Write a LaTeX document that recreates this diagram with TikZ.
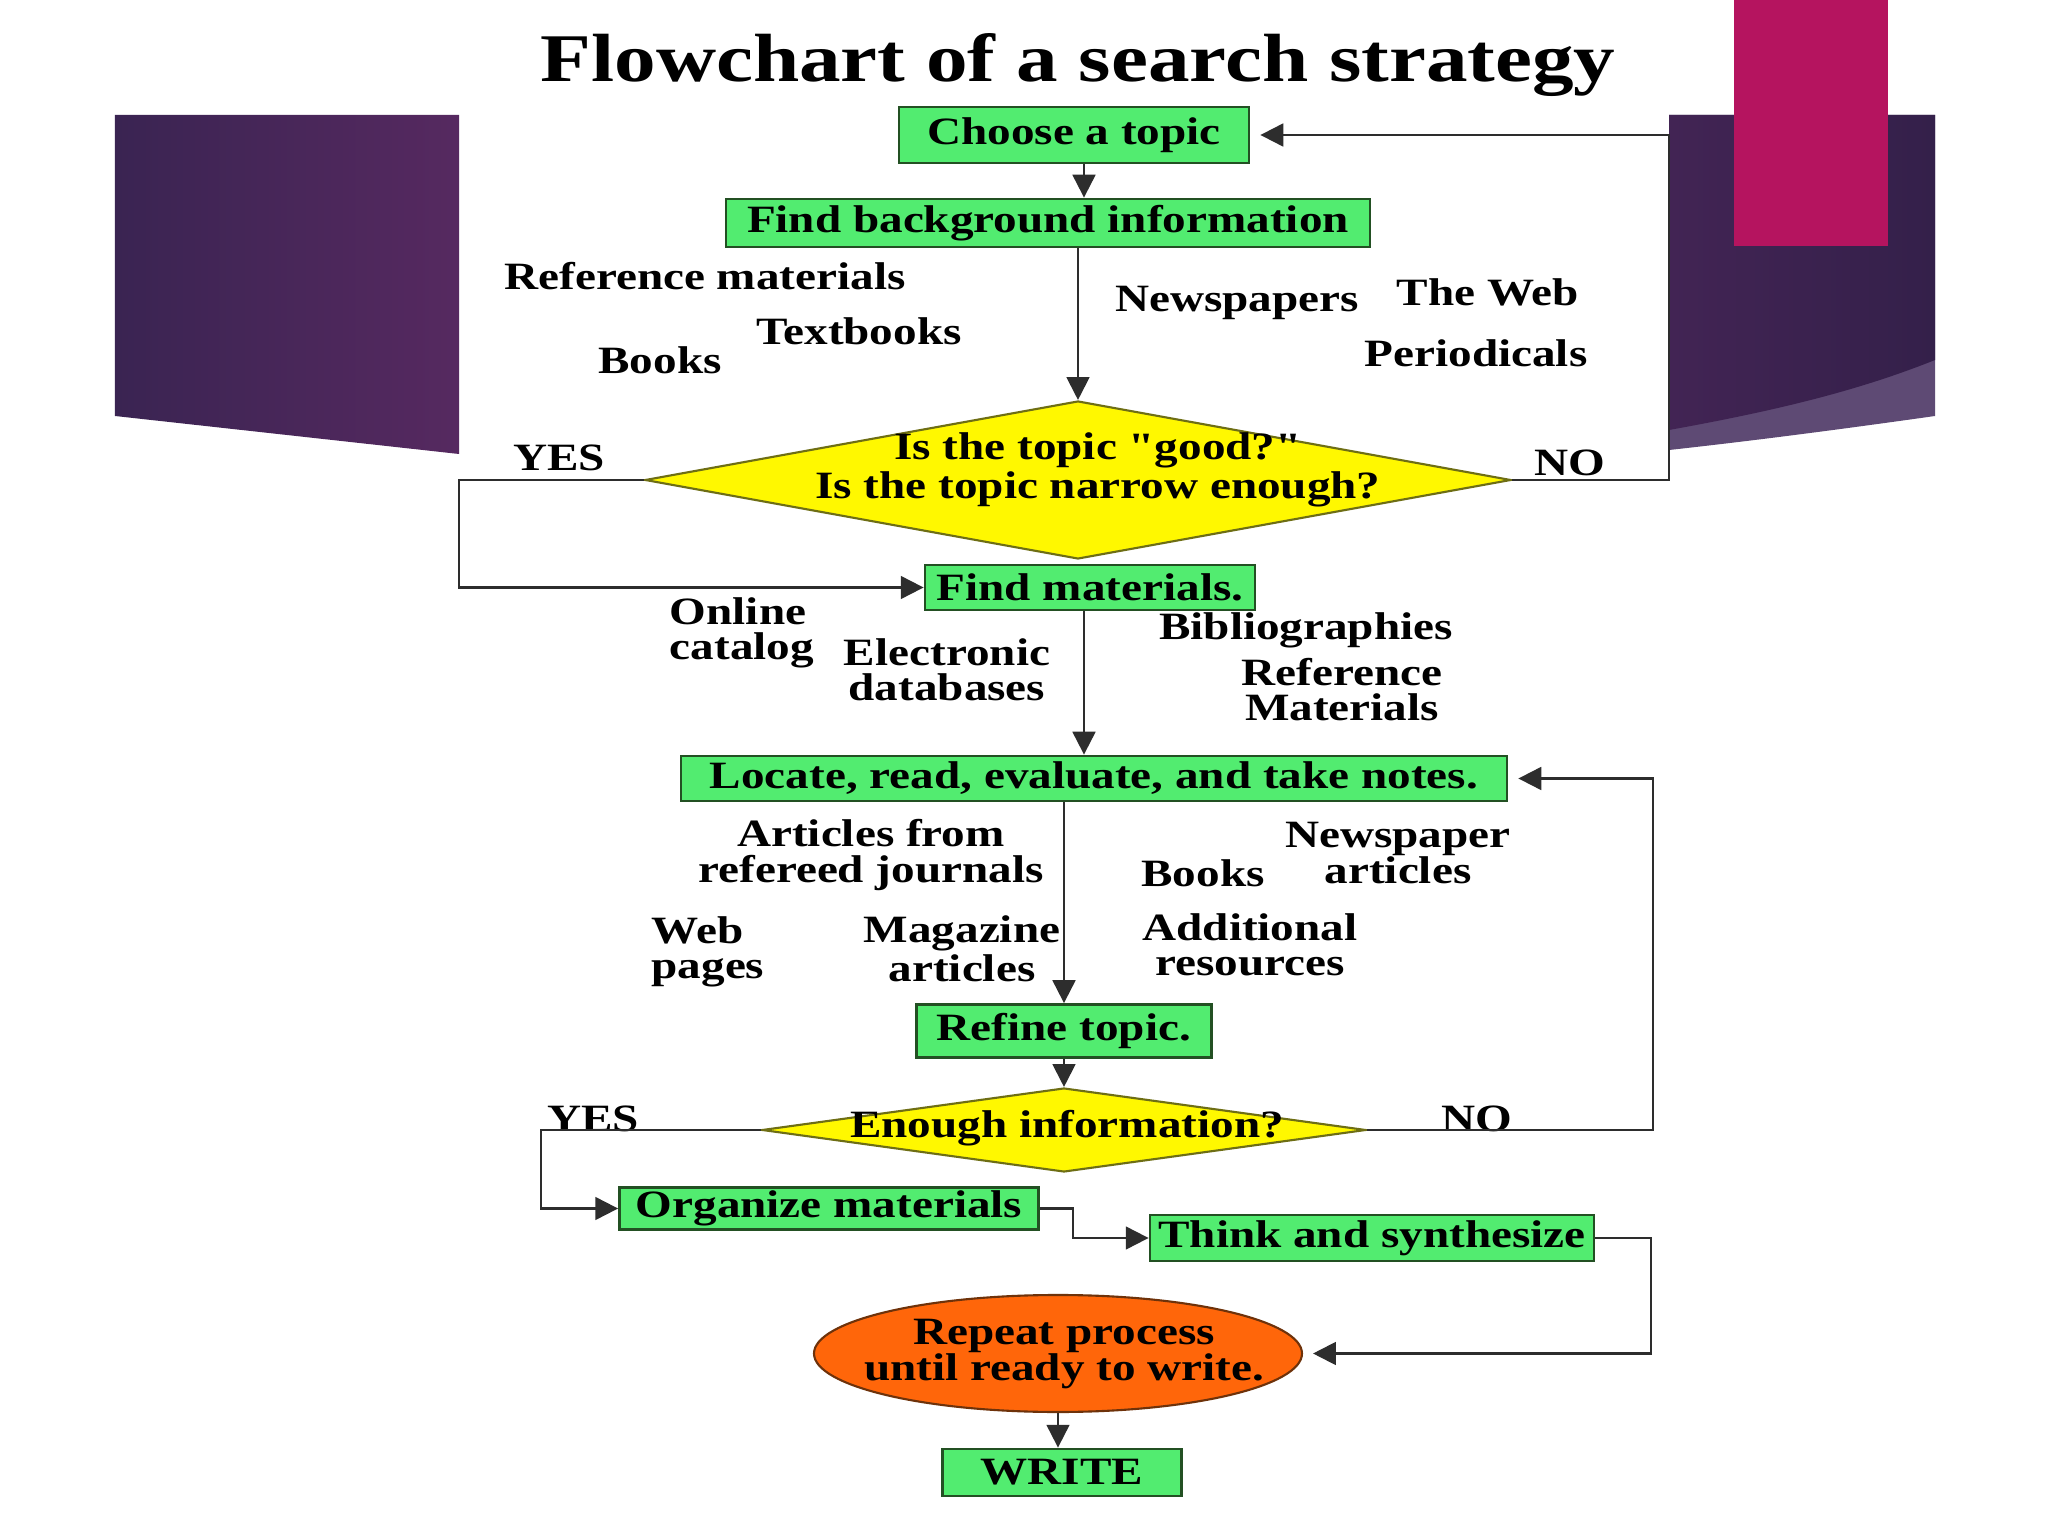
\documentclass[tikz,border=0pt]{standalone}
\usepackage{fontspec}
\setmainfont{Liberation Serif}[FakeStretch=1.22,Ligatures=TeXOff]
\usetikzlibrary{positioning,arrows.meta,shapes.geometric}
\definecolor{boxgreen}{RGB}{82,236,112}
\definecolor{boxedge}{RGB}{35,80,35}
\definecolor{diayellow}{RGB}{255,248,0}
\definecolor{diaedge}{RGB}{110,110,20}
\definecolor{ovalorange}{RGB}{255,102,10}
\definecolor{ovaledge}{RGB}{110,50,10}
\definecolor{linegray}{RGB}{45,45,45}
\definecolor{purpA}{RGB}{58,36,82}
\definecolor{purpB}{RGB}{86,41,96}
\definecolor{purpC}{RGB}{66,36,84}
\definecolor{purpD}{RGB}{52,32,74}
\definecolor{purpband}{RGB}{94,74,116}
\definecolor{magentabar}{RGB}{181,20,95}

\begin{document}
\begin{tikzpicture}[
  font=\bfseries\fontsize{11}{10}\selectfont,
  stepbox/.style={draw=boxedge,fill=boxgreen,line width=0.8pt,inner sep=1pt,minimum height=0.45cm},
  decision/.style={diamond,draw=diaedge,fill=diayellow,line width=0.6pt,inner sep=0pt},
  oval/.style={ellipse,draw=ovaledge,fill=ovalorange,line width=0.6pt,inner sep=0pt},
  qtext/.style={align=center,inner sep=0pt},
  src/.style={align=center,inner sep=1pt},
  arr/.style={-{Triangle[length=6.5pt,width=6.5pt]},line width=0.6pt,draw=linegray}
]
\fill[white] (0,0) rectangle (20.48,-15.36);
\useasboundingbox (0,0) rectangle (20.48,-15.36);
% slide decoration
\shade[left color=purpA,right color=purpB] (1.15,-1.15) -- (4.59,-1.15) -- (4.59,-4.54) -- (1.15,-4.16) -- cycle;
\fill[purpband] (16.69,-1.15) -- (19.35,-1.15) -- (19.35,-4.16) .. controls (18.5,-4.28) and (17.6,-4.40) .. (16.69,-4.50) -- cycle;
\shade[left color=purpC,right color=purpD] (16.69,-1.15) -- (19.35,-1.15) -- (19.35,-3.60) .. controls (18.6,-3.90) and (17.8,-4.10) .. (16.69,-4.30) -- cycle;
\fill[magentabar] (17.34,0) rectangle (18.88,-2.46);

\node[font=\bfseries\fontsize{19.4}{22}\selectfont] (title) at (10.78,-0.65) {Flowchart of a search strategy};

\node[stepbox,minimum width=3.50cm,minimum height=0.56cm] (choose) at (10.74,-1.35) {Choose a topic};
\node[stepbox,minimum width=6.44cm,minimum height=0.48cm] (findbg) at (10.48,-2.23) {Find background information};
\node[src] (refmat) at (7.05,-2.76) {Reference materials};
\node[src] (textbooks) at (8.59,-3.31) {Textbooks};
\node[src] (booksA) at (6.60,-3.60) {Books};
\node[src] (newspapers) at (12.37,-3.03) {Newspapers};
\node[src] (theweb) at (14.88,-2.92) {The Web};
\node[src] (periodicals) at (14.76,-3.53) {Periodicals};

\node[decision,minimum width=8.66cm,minimum height=1.58cm] (goodq) at (10.78,-4.80) {};
\node[qtext] (goodqtext) at (10.98,-4.70) {Is the topic "good?"\\Is the topic narrow enough?};
\node[src] (yesA) at (5.59,-4.58) {YES};
\node[src] (noA) at (15.70,-4.63) {NO};

\node[stepbox,minimum width=3.30cm] (findmat) at (10.90,-5.875) {Find materials.};
\node[src,align=left] (online) at (7.42,-6.33) {Online\\catalog};
\node[src] (electronic) at (9.47,-6.70) {Electronic\\databases};
\node[src] (biblio) at (13.06,-6.30) {Bibliographies};
\node[src] (refmatB) at (13.42,-6.90) {Reference\\Materials};

\node[stepbox,minimum width=8.26cm] (locate) at (10.94,-7.785) {Locate, read, evaluate, and take notes.};
\node[src] (articles) at (8.71,-8.55) {Articles from\\refereed journals};
\node[src] (booksB) at (12.03,-8.73) {Books};
\node[src] (newsart) at (13.98,-8.53) {Newspaper\\articles};
\node[src,align=left] (webpages) at (7.08,-9.52) {Web\\pages};
\node[src] (magazine) at (9.62,-9.49) {Magazine\\articles};
\node[src] (additional) at (12.50,-9.45) {Additional\\resources};

\node[stepbox,minimum width=2.95cm,minimum height=0.53cm] (refine) at (10.64,-10.31) {Refine topic.};
\node[decision,minimum width=6.04cm,minimum height=0.84cm] (enoughq) at (10.64,-11.30) {};
\node[qtext] (enoughtext) at (10.67,-11.28) {Enough information?};
\node[src] (yesB) at (5.93,-11.19) {YES};
\node[src] (noB) at (14.77,-11.19) {NO};

\node[stepbox,minimum width=4.19cm,minimum height=0.38cm] (organize) at (8.29,-12.085) {Organize materials};
\node[stepbox,minimum width=4.44cm,minimum height=0.46cm] (think) at (13.72,-12.38) {Think and synthesize};
\node[oval,minimum width=4.88cm,minimum height=1.17cm] (repeat) at (10.58,-13.535) {};
\node[qtext] (repeattext) at (10.64,-13.54) {Repeat process\\until ready to write.};
\node[stepbox,minimum width=2.39cm,minimum height=0.47cm] (write) at (10.62,-14.725) {WRITE};

\draw[arr] ([xshift=1mm]choose.south) -- ([xshift=1mm]choose.south |- findbg.north);
\draw[arr] (findbg.south -| goodq.north) -- (goodq.north);
\draw[arr,shorten >=1mm] (goodq.east) -- ++(1.57,0) |- (choose.east);
\draw[arr] (goodq.west) -- ++(-1.85,0) |- (findmat.west);
\draw[arr] ([xshift=-0.6mm]findmat.south) -- ([xshift=-0.6mm]findmat.south |- locate.north);
\draw[arr] (locate.south -| refine.north) -- (refine.north);
\draw[arr] (refine.south) -- (enoughq.north);
\draw[arr,shorten >=1mm] (enoughq.east) -- ++(2.86,0) |- (locate.east);
\draw[arr] (enoughq.west) -- ++(-2.2,0) |- (organize.west);
\draw[arr] (organize.east) -- ++(0.33,0) |- (think.west);
\draw[arr,shorten >=1mm] (think.east) -- ++(0.56,0) |- (repeat.east);
\draw[arr] (repeat.south) -- (repeat.south |- write.north);
\end{tikzpicture}
\end{document}
